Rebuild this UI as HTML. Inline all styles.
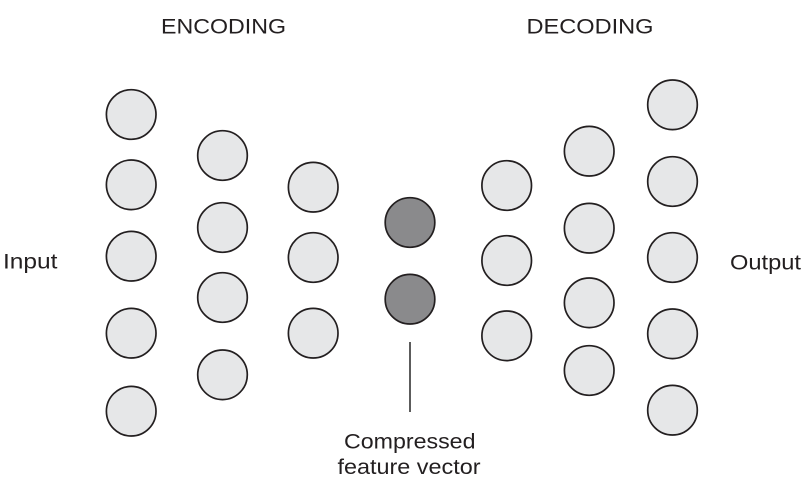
<!DOCTYPE html>
<html>
<head>
<meta charset="utf-8">
<style>
  html, body { margin: 0; padding: 0; background: #ffffff; }
  body { width: 807px; height: 483px; overflow: hidden; }
  svg { display: block; }
  text { font-family: "Liberation Sans", Arial, sans-serif; fill: #231f20; }
</style>
</head>
<body>
<svg width="807" height="483" viewBox="0 0 807 483" xmlns="http://www.w3.org/2000/svg">
  <rect width="807" height="483" fill="#ffffff"/>

  <!-- Labels -->
  <text x="161" y="33.3" font-size="21.5" textLength="125" lengthAdjust="spacingAndGlyphs">ENCODING</text>
  <text x="526.5" y="33.3" font-size="21.5" textLength="127" lengthAdjust="spacingAndGlyphs">DECODING</text>
  <text x="3" y="268.7" font-size="21.5" textLength="54.5" lengthAdjust="spacingAndGlyphs">Input</text>
  <text x="730" y="269.3" font-size="21.5" textLength="71" lengthAdjust="spacingAndGlyphs">Output</text>
  <text x="344" y="448.3" font-size="21" textLength="131.5" lengthAdjust="spacingAndGlyphs">Compressed</text>
  <text x="337.5" y="474" font-size="21" textLength="143" lengthAdjust="spacingAndGlyphs">feature vector</text>

  <!-- Connector line -->
  <line x1="410" y1="342" x2="410" y2="412" stroke="#333333" stroke-width="1.6"/>

  <g stroke="#231f20" stroke-width="1.7" fill="#e6e7e8">
    <!-- Column 1 -->
    <circle cx="131.2" cy="114.5" r="24.8"/>
    <circle cx="131.2" cy="184.8" r="24.8"/>
    <circle cx="131.2" cy="256.2" r="24.8"/>
    <circle cx="131.2" cy="333.2" r="24.8"/>
    <circle cx="131.2" cy="411.2" r="24.8"/>
    <!-- Column 2 -->
    <circle cx="222.5" cy="155.5" r="24.8"/>
    <circle cx="222.5" cy="227.5" r="24.8"/>
    <circle cx="222.5" cy="297.5" r="24.8"/>
    <circle cx="222.5" cy="374.8" r="24.8"/>
    <!-- Column 3 -->
    <circle cx="313.2" cy="187.2" r="24.8"/>
    <circle cx="313.2" cy="257.5" r="24.8"/>
    <circle cx="313.2" cy="333.2" r="24.8"/>
    <!-- Column 4 -->
    <circle cx="506.7" cy="185.5" r="24.8"/>
    <circle cx="506.7" cy="260.5" r="24.8"/>
    <circle cx="506.7" cy="335.8" r="24.8"/>
    <!-- Column 5 -->
    <circle cx="589.2" cy="151.2" r="24.8"/>
    <circle cx="589.2" cy="228.2" r="24.8"/>
    <circle cx="589.2" cy="302.8" r="24.8"/>
    <circle cx="589.2" cy="370.5" r="24.8"/>
    <!-- Column 6 -->
    <circle cx="672.5" cy="104.8" r="24.8"/>
    <circle cx="672.5" cy="181.5" r="24.8"/>
    <circle cx="672.5" cy="257.5" r="24.8"/>
    <circle cx="672.5" cy="333.8" r="24.8"/>
    <circle cx="672.5" cy="410.2" r="24.8"/>
  </g>

  <!-- Compressed (dark) nodes -->
  <g stroke="#231f20" stroke-width="1.7" fill="#8a8a8c">
    <circle cx="410" cy="222.5" r="24.8"/>
    <circle cx="410" cy="299.2" r="24.8"/>
  </g>
</svg>
</body>
</html>
